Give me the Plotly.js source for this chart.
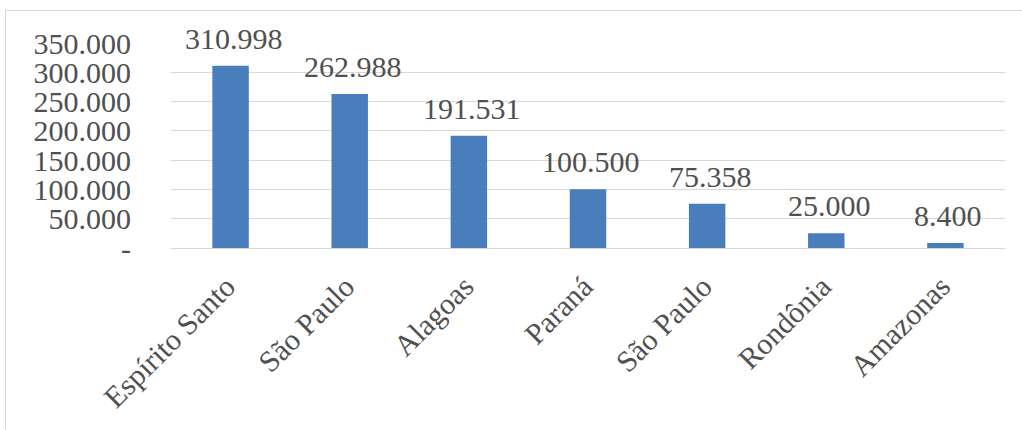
<!DOCTYPE html>
<html>
<head>
<meta charset="utf-8">
<script src="https://cdn.plot.ly/plotly-3.0.1.min.js"></script>
<style>
  html, body { margin: 0; padding: 0; background: #ffffff; }
  #wrap { position: relative; width: 1022px; height: 430px; overflow: hidden; }
  #chart { position: absolute; left: 0; top: 0; width: 1022px; height: 430px; }
  #frame { position: absolute; left: 5px; top: 10px; width: 1030px; height: 440px;
           border-left: 1px solid #d9d9d9; border-top: 1px solid #d9d9d9; pointer-events: none; }
</style>
</head>
<body>
<div id="wrap">
  <div id="chart"></div>
  <div id="frame"></div>
</div>
<script>
// Data
const categories = ["Espírito Santo", "São Paulo", "Alagoas", "Paraná", "São Paulo", "Rondônia", "Amazonas"];
const values = [310998, 262988, 191531, 100500, 75358, 25000, 8400];
const valueLabels = ["310.998", "262.988", "191.531", "100.500", "75.358", "25.000", "8.400"];
const yTickVals = [0, 50000, 100000, 150000, 200000, 250000, 300000, 350000];
const yTickText = ["-", "50.000", "100.000", "150.000", "200.000", "250.000", "300.000", "350.000"];

const positions = categories.map((_, i) => i);
const font = "Liberation Serif, Times New Roman, serif";
const textColor = "#505050";
const fsize = 30;

const trace = {
  type: "bar",
  x: positions,
  y: values,
  marker: { color: "#4a7dbb" },
  hoverinfo: "skip"
};

const annotations = positions.map((p, i) => ({
  x: p, y: values[i], xref: "x", yref: "y",
  text: valueLabels[i],
  showarrow: false,
  yanchor: "bottom",
  xanchor: "center",
  xshift: 3,
  yshift: 9,
  font: { family: font, size: fsize, color: textColor }
}));

const layout = {
  width: 1022, height: 430,
  margin: { l: 171, r: 17, t: 43, b: 182, pad: 0 },
  paper_bgcolor: "#ffffff",
  plot_bgcolor: "#ffffff",
  showlegend: false,
  bargap: 0.694,
  font: { family: font, size: fsize, color: textColor },
  xaxis: {
    type: "linear",
    range: [-0.5, categories.length - 0.5],
    tickmode: "array",
    tickvals: positions,
    ticktext: categories,
    tickangle: -45,
    showgrid: false,
    zeroline: false,
    showline: false,
    ticks: "",
    ticklabelstandoff: 14,
    ticklabelshift: -4,
    tickfont: { family: font, size: fsize, color: textColor },
    fixedrange: true
  },
  yaxis: {
    range: [0, 350000],
    tickmode: "array",
    tickvals: yTickVals,
    ticktext: yTickText,
    showgrid: true,
    gridcolor: "#d9d9d9",
    gridwidth: 1,
    zeroline: true,
    zerolinecolor: "#d9d9d9",
    zerolinewidth: 1,
    showline: false,
    ticks: "",
    ticklabelstandoff: 39,
    tickfont: { family: font, size: fsize, color: textColor },
    fixedrange: true
  },
  annotations: annotations
};

Plotly.newPlot("chart", [trace], layout, { displayModeBar: false, staticPlot: true });
</script>
</body>
</html>
